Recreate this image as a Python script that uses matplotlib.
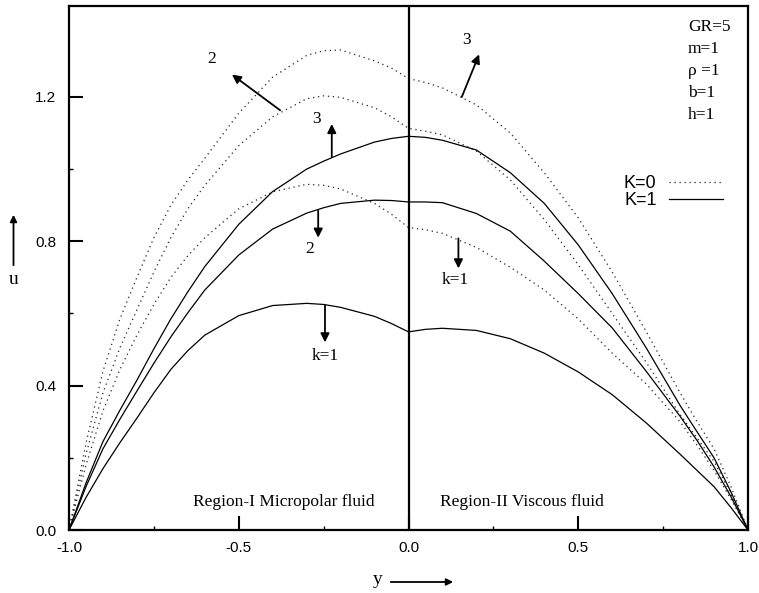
import numpy as np
import matplotlib
matplotlib.use("Agg")
import matplotlib.pyplot as plt

######## Data
##y positions (region I: -1..0, region II: 0..1)
y_left = [-1.0, -0.95, -0.9, -0.85, -0.8, -0.75, -0.7, -0.65, -0.6, -0.5, -0.4,
          -0.3, -0.25, -0.2, -0.1, -0.05, 0.0]
y_right = [0.05, 0.1, 0.2, 0.3, 0.4, 0.5, 0.6, 0.7, 0.8, 0.85, 0.9, 0.95, 1.0]

##K=1 (solid) velocity for k=1,2,3
u_K1_k1 = [0, 0.09, 0.17, 0.242, 0.31, 0.38, 0.445, 0.497, 0.54, 0.594, 0.622,
           0.628, 0.625, 0.617, 0.592, 0.572, 0.549,
           0.556, 0.559, 0.553, 0.53, 0.49, 0.438, 0.375, 0.297, 0.21, 0.165, 0.12, 0.062, 0]
u_K1_k2 = [0, 0.12, 0.225, 0.307, 0.385, 0.462, 0.535, 0.602, 0.665, 0.762, 0.834,
           0.878, 0.893, 0.905, 0.914, 0.913, 0.909,
           0.909, 0.907, 0.877, 0.828, 0.745, 0.655, 0.56, 0.44, 0.315, 0.248, 0.175, 0.092, 0]
u_K1_k3 = [0, 0.13, 0.245, 0.332, 0.415, 0.502, 0.585, 0.66, 0.73, 0.847, 0.938,
           1.0, 1.022, 1.042, 1.075, 1.085, 1.091,
           1.088, 1.08, 1.053, 0.99, 0.905, 0.79, 0.655, 0.505, 0.345, 0.272, 0.20, 0.105, 0]

##K=0 (dotted) velocity for k=1,2,3
u_K0_k1 = [0, 0.18, 0.33, 0.445, 0.54, 0.625, 0.70, 0.76, 0.81, 0.89, 0.937,
           0.958, 0.955, 0.945, 0.905, 0.875, 0.838,
           0.832, 0.822, 0.783, 0.728, 0.665, 0.585, 0.49, 0.405, 0.30, 0.235, 0.165, 0.085, 0]
u_K0_k2 = [0, 0.21, 0.38, 0.505, 0.61, 0.715, 0.81, 0.89, 0.955, 1.065, 1.145,
           1.195, 1.203, 1.199, 1.17, 1.145, 1.113,
           1.105, 1.095, 1.05, 0.97, 0.86, 0.735, 0.60, 0.465, 0.32, 0.255, 0.19, 0.10, 0]
u_K0_k3 = [0, 0.24, 0.44, 0.585, 0.70, 0.81, 0.90, 0.97, 1.03, 1.155, 1.255,
           1.315, 1.328, 1.33, 1.30, 1.28, 1.251,
           1.24, 1.225, 1.178, 1.10, 0.99, 0.865, 0.715, 0.55, 0.38, 0.30, 0.225, 0.12, 0]

##Parameter box text
params_text = ["GR=5", "m=1", "\u03c1 =1", "b=1", "h=1"]

##Arrow annotations: (label, label pos, tail, head)
arrow_notes = [
    ("2", (-0.58, 1.305), (-0.378, 1.163), (-0.52, 1.262)),
    ("3", (-0.27, 1.14), (-0.226, 1.034), (-0.226, 1.125)),
    ("3", (0.171, 1.357), (0.157, 1.200), (0.208, 1.318)),
    ("2", (-0.292, 0.778), (-0.266, 0.885), (-0.266, 0.81)),
    ("k=1", (0.137, 0.693), (0.147, 0.808), (0.147, 0.725)),
    ("k=1", (-0.246, 0.482), (-0.246, 0.623), (-0.246, 0.52)),
]

######## Plotting
serif = ["Liberation Serif", "DejaVu Serif"]
sans = ["Liberation Sans", "DejaVu Sans"]
plt.rcParams['font.family'] = sans

ys = np.array(y_left + y_right)

fig = plt.figure(figsize=(7.59, 5.93), dpi=100)
ax = fig.add_axes([69/759, 1 - 530/593, (748-69)/759, (530-6)/593])

dot = (0, (1, 3))
l0 = None
l1 = None
for u in [u_K0_k1, u_K0_k2, u_K0_k3]:
    l0, = ax.plot(ys, u, color='#222222', lw=0.9, ls=dot)
for u in [u_K1_k1, u_K1_k2, u_K1_k3]:
    l1, = ax.plot(ys, u, color='black', lw=0.9)

##interface between the two regions
ax.axvline(0.0, color='black', lw=1.6)

ax.set_xlim(-1, 1)
ax.set_ylim(0, 1.452)
ax.set_xticks([-1.0, -0.5, 0.0, 0.5, 1.0])
ax.set_xticks([-0.75, -0.25, 0.25, 0.75], minor=True)
ax.set_yticks([0.0, 0.4, 0.8, 1.2])
ax.set_yticks([0.2, 0.6, 1.0], minor=True)
ax.set_xticklabels(["-1.0", "-0.5", "0.0", "0.5", "1.0"])
ax.set_yticklabels(["0.0", "0.4", "0.8", "1.2"])
ax.tick_params(which='major', direction='in', length=10, width=1.5, labelsize=11)
ax.tick_params(axis='x', which='major', pad=8)
ax.tick_params(axis='y', which='major', pad=9)
ax.tick_params(which='minor', direction='in', length=3, width=1.0)
for s in ax.spines.values():
    s.set_linewidth(1.6)

for i, t in enumerate(params_text):
    ax.text(0.823, 1.394 - i * 0.061, t, family=serif, fontsize=12.5,
            ha='left', va='center')

ax.legend([l0, l1], ["K=0", "K=1"], loc='center right',
          bbox_to_anchor=(0.977, 0.645), frameon=False, markerfirst=False,
          fontsize=13, handlelength=3.0, handletextpad=0.7, labelspacing=0.0,
          borderpad=0)

for label, lpos, tail, head in arrow_notes:
    ax.annotate('', xy=head, xytext=tail,
                arrowprops=dict(arrowstyle='-|>', color='black', lw=1.3,
                                mutation_scale=13, shrinkA=0, shrinkB=0))
    ax.text(lpos[0], lpos[1], label, family=serif, fontsize=12.5,
            ha='center', va='center')

ax.text(-0.367, 0.078, "Region-I Micropolar fluid", family=serif, fontsize=12.5,
        ha='center', va='center')
ax.text(0.334, 0.078, "Region-II Viscous fluid", family=serif, fontsize=12.5,
        ha='center', va='center')

##axis names with arrows, in figure pixels
fig.text(378/759, 1 - 580/593, "y", family=serif, fontsize=14, ha='center', va='center')
fig.add_artist(matplotlib.patches.FancyArrowPatch(
    (388/759, 1 - 582/593), (456/759, 1 - 582/593), transform=fig.transFigure,
    arrowstyle='-|>', mutation_scale=10, lw=1.3, color='black'))
fig.text(14/759, 1 - 279/593, "u", family=serif, fontsize=14, ha='center', va='center')
fig.add_artist(matplotlib.patches.FancyArrowPatch(
    (13.5/759, 1 - 268/593), (13.5/759, 1 - 212/593), transform=fig.transFigure,
    arrowstyle='-|>', mutation_scale=10, lw=1.3, color='black'))

fig.savefig("out.png", dpi=100)
